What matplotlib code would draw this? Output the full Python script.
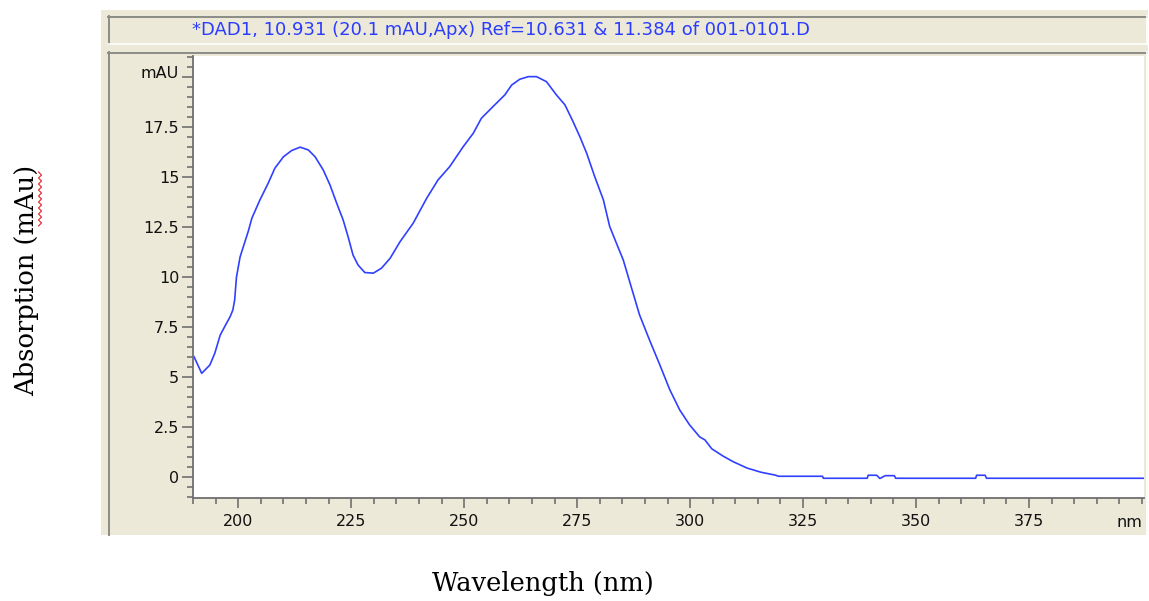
import matplotlib
matplotlib.use("Agg")
import matplotlib.pyplot as plt
from matplotlib.patches import Rectangle
from matplotlib.lines import Line2D
from matplotlib.ticker import MultipleLocator, FixedLocator
import matplotlib.transforms as mtransforms

# ---- data ----
wavelength = [190.2, 191.9, 193.7, 194.8, 196.0, 197.4, 198.2, 198.8, 199.2, 199.6,
              200.4, 201.1, 202.2, 203.0, 204.8, 206.6, 208.1, 210.0, 211.8, 213.7,
              215.5, 217.0, 218.8, 220.3, 221.8, 223.2, 224.3, 225.4, 226.5, 228.0,
              229.9, 231.7, 233.6, 235.8, 238.7, 241.7, 244.2, 246.8, 249.8, 252.0,
              253.8, 256.4, 259.0, 260.5, 262.3, 264.2, 266.0, 268.2, 270.4, 272.3,
              274.1, 275.6, 277.1, 278.9, 280.8, 282.2, 283.7, 285.2, 286.3, 288.8,
              291.0, 293.3, 295.5, 297.7, 299.9, 302.1, 303.3, 304.8, 307.2, 309.5,
              312.6, 315.7, 318.8, 319.6, 329.3, 329.5, 339.2, 339.4, 341.3, 342.0,
              343.2, 345.2, 345.5, 363.2, 363.4, 365.3, 365.6, 400.5]
absorbance = [6.02, 5.19, 5.60, 6.19, 7.10, 7.69, 8.02, 8.35, 8.85, 10.00,
              11.00, 11.50, 12.27, 12.93, 13.85, 14.67, 15.43, 16.00, 16.31, 16.48,
              16.34, 16.00, 15.34, 14.59, 13.67, 12.85, 12.01, 11.09, 10.60, 10.22,
              10.19, 10.44, 10.93, 11.76, 12.68, 13.93, 14.84, 15.51, 16.51, 17.17,
              17.92, 18.51, 19.09, 19.58, 19.87, 20.00, 20.00, 19.75, 19.09, 18.59,
              17.75, 17.00, 16.18, 15.00, 13.85, 12.52, 11.68, 10.85, 10.01, 8.11,
              6.86, 5.61, 4.37, 3.36, 2.61, 2.02, 1.86, 1.42, 1.07, 0.78,
              0.46, 0.25, 0.11, 0.05, 0.05, -0.05, -0.05, 0.10, 0.10, -0.06,
              0.08, 0.08, -0.05, -0.05, 0.10, 0.10, -0.05, -0.05]
x_ticks = [200, 225, 250, 275, 300, 325, 350, 375]
y_ticks = [0, 2.5, 5, 7.5, 10, 12.5, 15, 17.5, 20]
y_tick_labels = ["0", "2.5", "5", "7.5", "10", "12.5", "15", "17.5", "mAU"]
header = "*DAD1, 10.931 (20.1 mAU,Apx) Ref=10.631 & 11.384 of 001-0101.D"

W, H = 1149, 601
fig = plt.figure(figsize=(W / 100, H / 100), dpi=100)
fig.patch.set_facecolor("white")

def fx(px):
    return px / W

def fy(py):
    return 1 - py / H

beige = "#ECE9D8"
# outer beige panel
fig.add_artist(Rectangle((fx(101), fy(535)), fx(1148) - fx(101), fy(10) - fy(535),
                         transform=fig.transFigure, facecolor=beige, edgecolor="none", zorder=0))

def hline(x0, x1, y, color, lw=1.0):
    fig.add_artist(Line2D([fx(x0), fx(x1)], [fy(y), fy(y)], transform=fig.transFigure,
                          color=color, lw=lw, zorder=1))

def vline(x, y0, y1, color, lw=1.0):
    fig.add_artist(Line2D([fx(x), fx(x)], [fy(y0), fy(y1)], transform=fig.transFigure,
                          color=color, lw=lw, zorder=1))

# header box
hline(108, 1147, 16.5, "#8c8c86", 1.4)
vline(108.5, 16, 44, "#8c8c86", 1.4)
hline(108, 1147, 44, "white", 1.2)
vline(1146.5, 16, 44, "white", 1.2)
# plot panel box
hline(108, 1147, 52.5, "#8c8c86", 1.4)
vline(108.5, 52, 535, "#8c8c86", 1.4)
vline(1146.5, 52, 535, "white", 1.2)

fig.text(fx(192), fy(30), header, color="#2b3cff", fontsize=13,
         family="DejaVu Sans", ha="left", va="center")

ax = fig.add_axes([fx(193.1), fy(498.3), fx(1144.2) - fx(193.1), fy(55.6) - fy(498.3)])
ax.set_facecolor("white")
ax.plot(wavelength, absorbance, color="#3040ff", lw=1.2, solid_joinstyle="round")
ax.set_xlim(190, 400.5)
ax.set_ylim(-1.05, 21.05)

for s in ["top", "right"]:
    ax.spines[s].set_visible(False)
for s in ["left", "bottom"]:
    ax.spines[s].set_color("#707070")
    ax.spines[s].set_linewidth(1.3)

ax.xaxis.set_major_locator(FixedLocator(x_ticks))
ax.xaxis.set_minor_locator(MultipleLocator(5))
ax.yaxis.set_major_locator(FixedLocator(y_ticks))
ax.yaxis.set_minor_locator(MultipleLocator(0.5))
ax.set_yticklabels(y_tick_labels)

ax.tick_params(axis="both", which="major", direction="out", color="#707070",
               width=1.2, labelsize=11.5, labelcolor="#111111")
ax.tick_params(axis="x", which="major", length=7, pad=4)
ax.tick_params(axis="y", which="major", length=8, pad=2)
ax.tick_params(axis="both", which="minor", direction="out", color="#707070",
               width=1.2, length=4)
for lab in ax.get_xticklabels() + ax.get_yticklabels():
    lab.set_family("DejaVu Sans")
# lift the "mAU" label a little, as in the reference
ylabs = ax.get_yticklabels()
ylabs[-1].set_transform(ylabs[-1].get_transform() +
                        mtransforms.ScaledTranslation(0, 5 / 100, fig.dpi_scale_trans))

ax.text(0.9845, -0.0545, "nm", transform=ax.transAxes, ha="center", va="center",
        fontsize=11.5, color="#111111", family="DejaVu Sans")

# outer axis labels (serif)
fig.text(fx(543), fy(583), "Wavelength (nm)", fontsize=18.5, family="DejaVu Serif",
         ha="center", va="center", color="black")
fig.text(fx(27), fy(280), "Absorption (mAu)", fontsize=18.5, family="DejaVu Serif",
         ha="center", va="center", rotation=90, color="black")

# red spell-check squiggle under "mAu"
zz_y = [172 + 3 * i for i in range(19)]
zz_x = [38.5 if i % 2 == 0 else 41.5 for i in range(19)]
fig.add_artist(Line2D([fx(v) for v in zz_x], [fy(v) for v in zz_y],
                      transform=fig.transFigure, color="#e8202a", lw=0.8, zorder=2))

fig.savefig("out.png", dpi=100, facecolor=fig.get_facecolor())
